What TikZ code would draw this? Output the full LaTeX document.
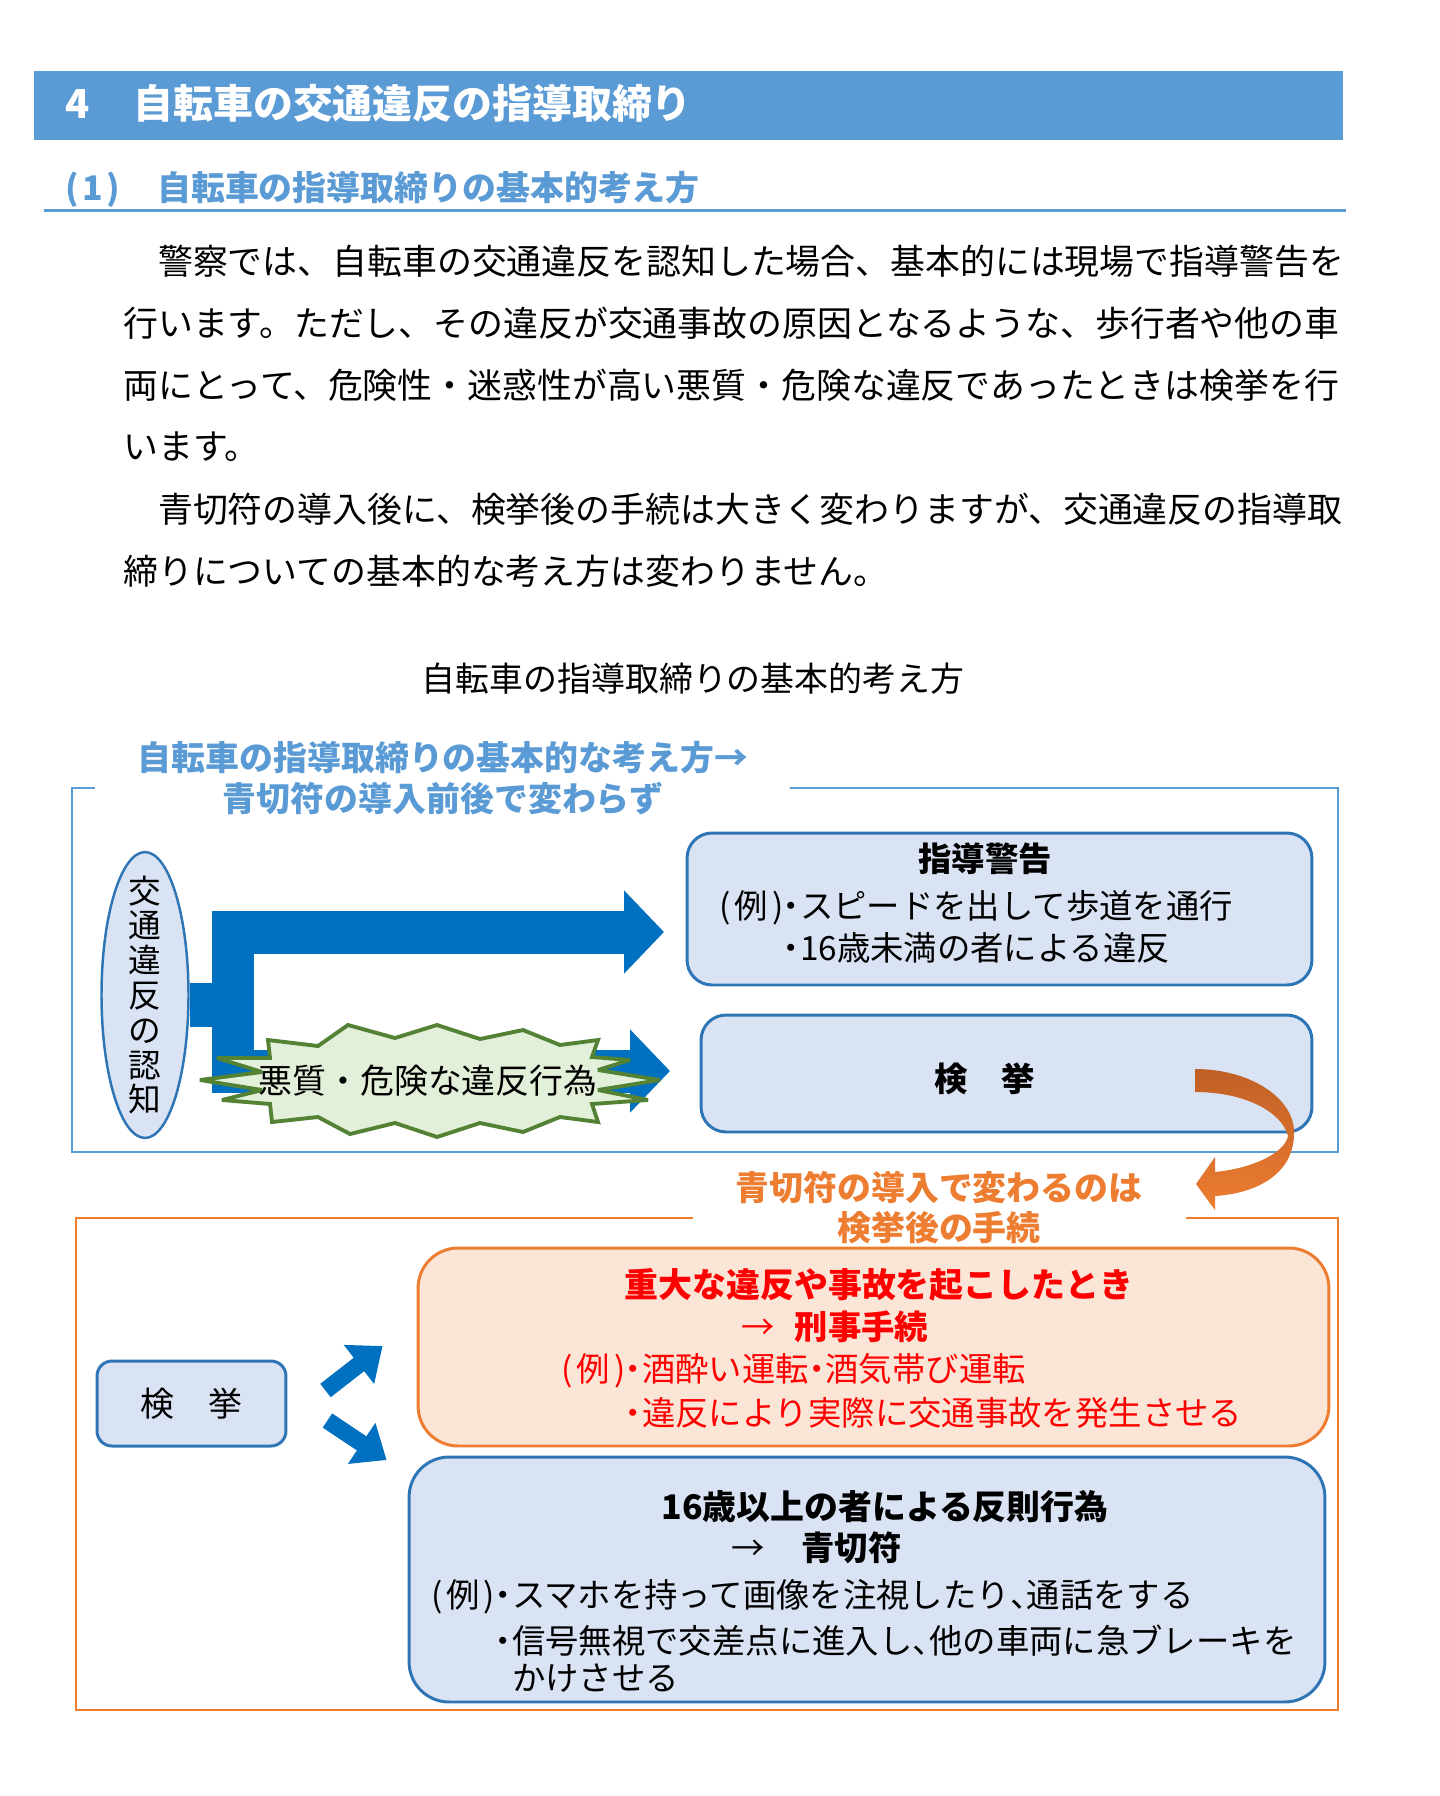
\documentclass[tikz,border=0pt]{standalone}
\usepackage{fontspec}
\setmainfont{Noto Sans CJK JP}
\usepackage{tikz}
\usetikzlibrary{shapes.geometric, arrows.meta, positioning, calc}
\definecolor{barblue}{RGB}{91,155,213}
\definecolor{boxblue}{RGB}{46,117,182}
\definecolor{boxfill}{RGB}{218,227,243}
\definecolor{arrowblue}{RGB}{0,112,192}
\definecolor{burstgreen}{RGB}{84,130,53}
\definecolor{burstfill}{RGB}{226,240,217}
\definecolor{myorange}{RGB}{237,125,49}
\definecolor{orangefill}{RGB}{251,229,214}
\definecolor{mybrown}{RGB}{192,96,38}
\definecolor{myred}{RGB}{255,0,0}
\newcommand\headsize{\fontsize{22.7}{27}\selectfont}
\newcommand\bodysize{\fontsize{19.85}{24}\selectfont}
\newcommand\labsize{\fontsize{19.3}{23.2}\selectfont}
\newcommand\boxsize{\fontsize{19}{23}\selectfont}
\newcommand\tatesize{\fontsize{18.6}{19.8}\selectfont}
\newcommand\rei{(\kern.12em例\kern.12em)}
\newcommand\nakag{\makebox[0.5em]{・}}
\newcommand\touten{\makebox[0.5em][l]{、}}
\tikzset{
  txt/.style={inner sep=0pt, anchor=west},
  ctxt/.style={inner sep=0pt, align=center},
  bluebox/.style={rectangle, draw=boxblue, fill=boxfill, line width=1.7pt, inner sep=0pt},
  orangebox/.style={rectangle, draw=myorange, fill=orangefill, line width=1.7pt, inner sep=0pt},
  bluefr/.style={draw=barblue, line width=1.4pt},
  orangefr/.style={draw=myorange, line width=1.4pt},
  burst/.style={draw=burstgreen, fill=burstfill, line width=2.2pt, miter limit=4},
  fatarrow/.style={draw=arrowblue, line width=0.86cm, line join=miter,
    -{Triangle[length=0.8cm, width=1.62cm]}},
  branch/.style={draw=arrowblue, line width=0.34cm,
    -{Triangle[length=0.6cm, width=0.95cm]}}
}
\begin{document}
\begin{tikzpicture}[x=0.02cm, y=-0.02cm]
  \fill[white] (0,0) rectangle (1440,1796);
  \useasboundingbox (0,0) rectangle (1440,1796);

  % heading
  \node[rectangle, fill=barblue, minimum width=26.18cm, minimum height=1.38cm, inner sep=0pt] (bar) at (688.5,105.5) {};
  \node[txt, font=\headsize\bfseries, text=white] (bartext) at (65,103) {4\hspace{1.1em}自転車の交通違反の指導取締り};
  \node[txt, font=\labsize\bfseries, text=barblue] (subtitle) at (65,189) {(\kern.1em1\kern.1em)\hspace{1.1em}自転車の指導取締りの基本的考え方};
  \draw[barblue, line width=1.7pt] (44,210) -- (1346,210);

  % body text
  \node[txt, font=\bodysize] (para1) at (123,261) {　警察では、自転車の交通違反を認知した場合、基本的には現場で指導警告を};
  \node[txt, font=\bodysize] (para2) at (123,323) {行います。ただし、その違反が交通事故の原因となるような、歩行者や他の車};
  \node[txt, font=\bodysize] (para3) at (123,385) {両にとって、危険性・迷惑性が高い悪質・危険な違反であったときは検挙を行};
  \node[txt, font=\bodysize] (para4) at (123,447) {います。};
  \node[txt, font=\bodysize] (para5) at (123,509) {　青切符の導入後に、検挙後の手続は大きく変わりますが、交通違反の指導取};
  \node[txt, font=\bodysize] (para6) at (123,571) {締りについての基本的な考え方は変わりません。};
  \node[ctxt, font=\labsize] (caption) at (693,679) {自転車の指導取締りの基本的考え方};

  % upper frame
  \draw[bluefr] (95,788) -- (72,788) -- (72,1152) -- (1338,1152) -- (1338,788) -- (790,788);
  \node[ctxt, font=\labsize\bfseries, text=barblue] (uptitle) at (443,778) {自転車の指導取締りの基本的な考え方→\\青切符の導入前後で変わらず};

  \node[ellipse, draw=boxblue, fill=boxfill, line width=1.4pt, minimum width=1.74cm, minimum height=5.72cm, inner sep=0pt] (ninchi) at (145,995) {};
  \node[ctxt, font=\tatesize] (ninchitext) at (ninchi.center) {交\\通\\違\\反\\の\\認\\知};

  \node[bluebox, rounded corners=0.5cm, minimum width=12.5cm, minimum height=3.04cm] (shido) at (999.5,909) {};
  \node[ctxt, font=\boxsize\bfseries] (shidotitle) at (985,859) {指導警告};
  \node[txt, font=\boxsize] (shidoex1) at (719,908) {\rei\nakag スピードを出して歩道を通行};
  \node[txt, font=\boxsize] (shidoex2) at (719,950) {\phantom{\rei}\nakag 16歳未満の者による違反};

  \node[bluebox, rounded corners=0.5cm, minimum width=12.22cm, minimum height=2.34cm] (kenkyo) at (1006.5,1073.5) {};
  \node[ctxt, font=\boxsize\bfseries] (kenkyotext) at (985,1079) {検　挙};

  % big blue arrows
  \coordinate (fork) at (233,1005);
  \coordinate (tip1) at (664,932);
  \coordinate (tip2) at (670,1071);
  \draw[draw=arrowblue, line width=0.88cm] (ninchi.east |- fork) -- (fork);
  \draw[fatarrow] (fork) |- (tip1);
  \draw[fatarrow] (fork) |- (tip2);

  % starburst
  \coordinate (akushitsu) at (428,1081);
  \draw[burst, shift={(akushitsu)}] (-228,-1) -- (-166,-9) -- (-211,-23) -- (-158,-23)
    -- (-160,-41) -- (-110,-35) -- (-80,-56) -- (-33,-43) -- (9,-56) -- (52,-42)
    -- (95,-51) -- (132,-36) -- (170,-41) -- (164,-24) -- (202,-21) -- (170,-11)
    -- (232,-1) -- (170,9) -- (220,19) -- (164,23) -- (170,41) -- (132,36)
    -- (95,51) -- (52,42) -- (9,56) -- (-33,42) -- (-78,53) -- (-110,36)
    -- (-156,41) -- (-158,23) -- (-206,19) -- (-166,9) -- cycle;
  \node[ctxt, font=\labsize] (akushitsutext) at (akushitsu) {悪質・危険な違反行為};

  % curved arrow
  \shade[top color=mybrown, bottom color=myorange]
    (1195,1069) .. controls (1250,1069) and (1294,1098) .. (1294,1132)
    .. controls (1295,1170) and (1262,1193) .. (1215,1196)
    -- (1215,1210) -- (1196,1184) -- (1215,1157) -- (1215,1172)
    .. controls (1255,1168) and (1285,1152) .. (1288,1136)
    .. controls (1282,1112) and (1245,1092) .. (1195,1092) -- cycle;

  % lower frame
  \draw[orangefr] (693,1218) -- (76,1218) -- (76,1710) -- (1338,1710) -- (1338,1218) -- (1186,1218);
  \node[ctxt, font=\labsize\bfseries, text=myorange] (change) at (939,1207.5) {青切符の導入で変わるのは\\検挙後の手続};

  \node[bluebox, rounded corners=0.3cm, minimum width=3.78cm, minimum height=1.7cm, font=\labsize] (kenkyo2) at (191.5,1403.5) {検　挙};

  \node[orangebox, rounded corners=0.8cm, minimum width=18.22cm, minimum height=3.96cm] (keiji) at (873.5,1347) {};
  \node[ctxt, font=\labsize\bfseries, text=myred] (keijit1) at (879,1285) {重大な違反や事故を起こしたとき};
  \node[txt, font=\boxsize, text=myred] (keijit2) at (741,1327) {→\hspace{0.6em}\textbf{刑事手続}};
  \node[txt, font=\boxsize, text=myred] (keijit3) at (561,1371) {\rei\nakag 酒酔い運転\nakag 酒気帯び運転};
  \node[txt, font=\boxsize, text=myred] (keijit4) at (561,1415) {\phantom{\rei}\nakag 違反により実際に交通事故を発生させる};

  \node[bluebox, rounded corners=0.8cm, minimum width=18.32cm, minimum height=4.9cm] (aokippu) at (867,1579.5) {};
  \node[ctxt, font=\labsize\bfseries] (aokipput1) at (885,1507) {16歳以上の者による反則行為};
  \node[txt, font=\boxsize] (aokipput2) at (731,1548) {→\hspace{1.1em}\textbf{青切符}};
  \node[txt, font=\boxsize] (aokipput3) at (431,1597) {\rei\nakag スマホを持って画像を注視したり\touten 通話をする};
  \node[txt, font=\boxsize] (aokipput4) at (431,1642) {\phantom{\rei}\nakag 信号無視で交差点に進入し\touten 他の車両に急ブレーキを};
  \node[txt, font=\boxsize] (aokipput5) at (431,1680) {\phantom{\rei\nakag}かけさせる};

  % branch arrows
  \draw[branch] ($(kenkyo2.east)+(38,-13)$) -- ($(keiji.west)+(-34,-1)$);
  \draw[branch] ($(kenkyo2.east)+(40,17)$) -- ($(aokippu.west)+(-21,-119.5)$);
\end{tikzpicture}
\end{document}
